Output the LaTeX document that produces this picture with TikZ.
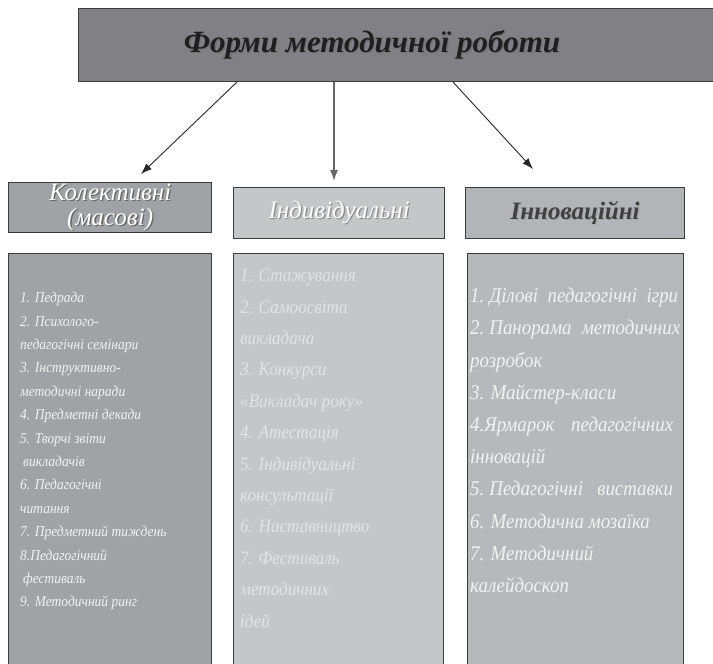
\documentclass[tikz,border=0pt]{standalone}
\usepackage{fontspec}
\setmainfont{Liberation Serif}
\newfontfamily\listfont[FakeStretch=0.9]{Liberation Serif}
\usetikzlibrary{arrows.meta,positioning,calc}

\definecolor{topfill}{HTML}{808085}
\definecolor{kolfill}{HTML}{A1A2A6}
\definecolor{indfill}{HTML}{C5C6C8}
\definecolor{innfill}{HTML}{B7B8BC}
\definecolor{innhead}{HTML}{B3B4B8}
\definecolor{edge}{HTML}{3C3C3C}
\definecolor{lighttxt}{HTML}{F2F2F2}
\definecolor{paletxt}{HTML}{E2E3E5}

% text with a small shadow to the lower right
\newcommand{\shd}[2]{\makebox[0pt][l]{\hspace{1.3pt}\raisebox{-1.3pt}{\textcolor{#1}{#2}}}#2}
% a line stretched to a given width
\newcommand{\fullln}[2]{\makebox[#1][s]{#2}}

\tikzset{
  frame/.style={draw=edge, line width=1.3pt, inner sep=0pt, anchor=north west},
  headtxt/.style={font=\itshape\fontsize{25}{25}\selectfont, align=center},
  listtxt/.style={anchor=north west, align=left, inner sep=0pt},
  link/.style={-{Latex[length=11pt,width=8pt]}, line width=0.9pt, draw=black!85},
}

\begin{document}
\begin{tikzpicture}[x=1pt,y=-1pt]
\useasboundingbox (0,0) rectangle (713,664);

\node[frame, fill=topfill, minimum width=640pt, minimum height=73pt] (forms) at (78,8) {};
\node[font=\bfseries\itshape\fontsize{31}{36}\selectfont, text=black!88] (title) at (372,45)
  {\shd{black!55}{Форми методичної роботи}};

\node[frame, fill=kolfill, minimum width=203pt, minimum height=50pt, headtxt, text=white] (kol) at (8,182)
  {\shd{black!60}{Колективні}\\\shd{black!60}{(масові)}};
\node[frame, fill=indfill, minimum width=211pt, minimum height=51pt, headtxt, text=white] (ind) at (233,187)
  {\shd{black!45}{Індивідуальні}};
\node[frame, fill=innhead, minimum width=219pt, minimum height=51pt, headtxt, font=\bfseries\itshape\fontsize{25}{25}\selectfont, text=black!75] (inn) at (465,187)
  {\shd{black!35}{Інноваційні}};

\node[frame, fill=kolfill, minimum width=203pt, minimum height=420pt] (kollist) at (8,253) {};
\node[frame, fill=indfill, minimum width=210pt, minimum height=420pt] (indlist) at (233,253) {};
\node[frame, fill=innfill, minimum width=216pt, minimum height=420pt] (innlist) at (467,253) {};

\node[listtxt, text=lighttxt, font=\listfont\itshape\fontsize{15}{23.4}\selectfont,
  below right=39pt and 12pt of kollist.north west] (koltext)
  {1. Педрада\\2. Психолого-\\педагогічні семінари\\3. Інструктивно-\\методичні наради\\
   4. Предметні декади\\5. Творчі звіти\\\hspace{3pt}викладачів\\6. Педагогічні\\читання\\
   7. Предметний тиждень\\8.Педагогічний\\\hspace{3pt}фестиваль\\9. Методичний ринг};
\node[listtxt, text=paletxt, font=\listfont\itshape\fontsize{19}{31.4}\selectfont,
  below right=16pt and 7pt of indlist.north west] (indtext)
  {1. Стажування\\2. Самоосвіта\\викладача\\3. Конкурси\\«Викладач  року»\\4. Атестація\\
   5. Індивідуальні\\консультації\\6. Наставництво\\7. Фестиваль\\методичних\\ідей};
\node[listtxt, text=lighttxt, font=\listfont\itshape\fontsize{21}{32.2}\selectfont,
  below right=35pt and 3pt of innlist.north west] (inntext)
  {\fullln{208pt}{1.\hspace{5pt}Ділові педагогічні ігри}\\\fullln{210pt}{2.\hspace{5pt}Панорама методичних}\\розробок\\
   3. Майстер-класи\\\fullln{203pt}{4.Ярмарок педагогічних}\\інновацій\\\fullln{203pt}{5.\hspace{5pt}Педагогічні виставки}\\
   6. Методична мозаїка\\7. Методичний\\калейдоскоп};

\coordinate (s1) at (237,82);
\coordinate (s2) at (334,82);
\coordinate (s3) at (453,82);
\coordinate (e1) at (141,174);
\coordinate (e2) at (334,181);
\coordinate (e3) at (533,169);
\draw[link] (s1) -- (e1);
\draw[link, draw=black!60, line width=1.4pt] (s2) -- (e2);
\draw[link] (s3) -- (e3);
\end{tikzpicture}
\end{document}
